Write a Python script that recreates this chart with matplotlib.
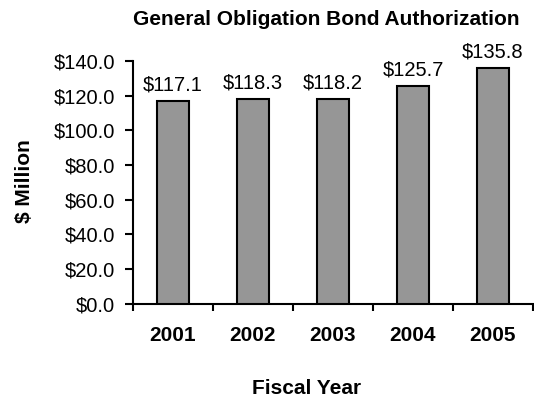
import matplotlib
matplotlib.use("Agg")
import matplotlib.pyplot as plt
import numpy as np

years = ["2001", "2002", "2003", "2004", "2005"]
values = [117.1, 118.3, 118.2, 125.7, 135.8]
yticks = [0, 20, 40, 60, 80, 100, 120, 140]

plt.rcParams['font.family'] = ['Liberation Sans', 'DejaVu Sans']

fig = plt.figure(figsize=(5.34, 4.0), dpi=100)
ax = fig.add_axes([133 / 534, 0.2412, 400 / 534, 0.8475 - 0.2412])

x = np.arange(len(years))
ax.bar(x, values, width=0.41, color='#969696', edgecolor='black', linewidth=1.5, zorder=3)
for xi, v in zip(x, values):
    ax.annotate(f"${v:.1f}", xy=(xi, v), xytext=(0, 7.6), textcoords='offset points',
                ha='center', va='baseline', fontsize=14.5)

ax.set_xlim(-0.5, len(years) - 0.5)
ax.set_ylim(0, 140)
ax.set_yticks(yticks)
ax.set_yticklabels([f"${t:.1f}" for t in yticks], fontsize=14.5)
ax.set_xticks(x)
ax.set_xticklabels(years, fontsize=15, fontweight='bold')
ax.tick_params(axis='x', length=0, pad=16.3)
ax.set_xticks(np.arange(-0.5, len(years)), minor=True)
ax.tick_params(axis='x', which='minor', length=5, width=1.5, direction='out')
ax.tick_params(axis='y', length=5.8, width=1.5, direction='out', pad=7)

for s in ['top', 'right']:
    ax.spines[s].set_visible(False)
for s in ['left', 'bottom']:
    ax.spines[s].set_linewidth(1.5)

fig.text(24 / 534, (400 - 181.5) / 400, "$ Million", rotation=90, ha='center', va='center',
         fontsize=15, fontweight='bold')
fig.text(307 / 534, 0.004, "Fiscal Year", ha='center', va='bottom',
         fontsize=15, fontweight='bold')
fig.text(326 / 534, (400 - 25) / 400, "General Obligation Bond Authorization", ha='center',
         va='baseline', fontsize=15, fontweight='bold')

fig.savefig("out.png", dpi=100)
